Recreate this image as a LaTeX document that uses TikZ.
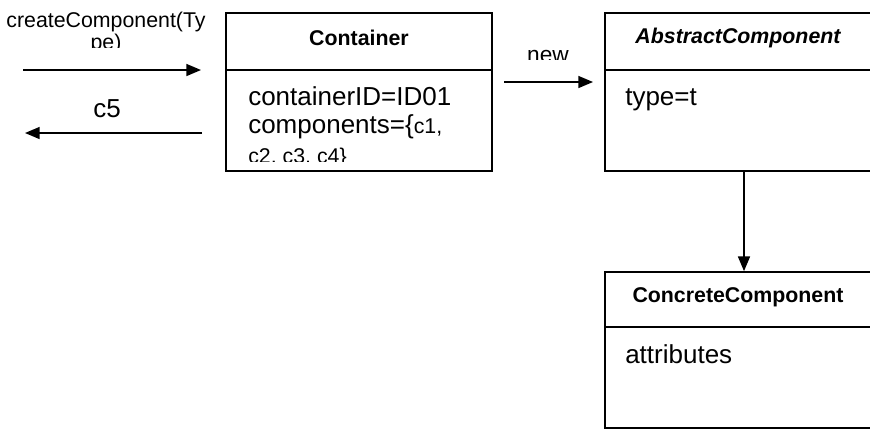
\documentclass[tikz,border=0pt]{standalone}
\usepackage{fontspec}
\setmainfont{Liberation Sans}
\usetikzlibrary{arrows.meta}

\tikzset{
  classbox/.style={draw, line width=1.3pt, inner sep=0pt},
  msg/.style={line width=1.1pt, -{Triangle[length=11pt,width=9pt]}},
  txt/.style={inner sep=0pt, font=\fontsize{19.5}{23}\selectfont},
  headtxt/.style={inner sep=0pt, font=\fontsize{16}{19}\selectfont\bfseries},
  smalltxt/.style={inner sep=0pt, font=\fontsize{16}{19}\selectfont}
}

\begin{document}
\begin{tikzpicture}[x=0.75pt,y=0.75pt,yscale=-1,xscale=1]
\useasboundingbox (0,0) rectangle (870,430);
\clip (0,0) rectangle (870,430);

%Shape: Rectangle [Container]
\node [classbox, minimum width=199.5pt, minimum height=118.5pt] (cont) at (359,92) {};
\draw [line width=1.3pt] (226,70) -- (492,70) ;
%Shape: Rectangle [AbstractComponent]
\node [classbox, minimum width=208.5pt, minimum height=118.5pt] (abs) at (744,92) {};
\draw [line width=1.3pt] (605,70) -- (883,70) ;
%Shape: Rectangle [ConcreteComponent]
\node [classbox, minimum width=208.5pt, minimum height=117pt] (conc) at (744,350) {};
\draw [line width=1.3pt] (605,327) -- (883,327) ;

%Straight Lines [call in]
\coordinate (inL) at (23,70) ;
\coordinate (inR) at (201,70) ;
\draw [msg] (inL) -- (inR) ;
%Straight Lines [reply out]
\coordinate (outR) at (202,133) ;
\coordinate (outL) at (25,133) ;
\draw [msg] (outR) -- (outL) ;
%Straight Lines [new]
\coordinate (newL) at (504,82) ;
\coordinate (newR) at (593,82) ;
\draw [msg] (newL) -- (newR) ;
%Straight Lines [abstract to concrete]
\draw [msg] (abs.south) -- (conc.north) ;

% Text Node
\node [smalltxt, anchor=base] (callTop) at (106,27) {createComponent(Ty};
\begin{scope}
\clip (0,0) rectangle (230,47);
\node [smalltxt, anchor=base] (callBot) at (106,49) {pe)};
\end{scope}
% Text Node
\node [txt, anchor=base] (retLbl) at (107,117) {c5};
% Text Node
\begin{scope}
\clip (495,0) rectangle (600,59);
\node [txt, font=\fontsize{17}{20}\selectfont, anchor=base] (newLbl) at (548,62) {new};
\end{scope}

% Text Node
\node [headtxt, anchor=base] (contHead) at (359,45) {Container};
\node [txt, anchor=base west] (contId) at (248,105) {containerID=ID01};
\node [txt, anchor=base west] (contList) at (248,133) {components=\{{\fontsize{16}{19}\selectfont c1,}};
\begin{scope}
\clip (230,140) rectangle (488,161);
\node [txt, font=\fontsize{16}{19}\selectfont, anchor=base west] (contMore) at (248,163) {c2, c3, c4\}};
\end{scope}

% Text Node
\node [headtxt, font=\fontsize{16}{19}\selectfont\bfseries\itshape, anchor=base] (absHead) at (738,43) {AbstractComponent};
\node [txt, anchor=base west] (absAttr) at (625,105) {type=t};

% Text Node
\node [headtxt, anchor=base] (concHead) at (738,302) {ConcreteComponent};
\node [txt, anchor=base west] (concAttr) at (625,363) {attributes};

\end{tikzpicture}
\end{document}
